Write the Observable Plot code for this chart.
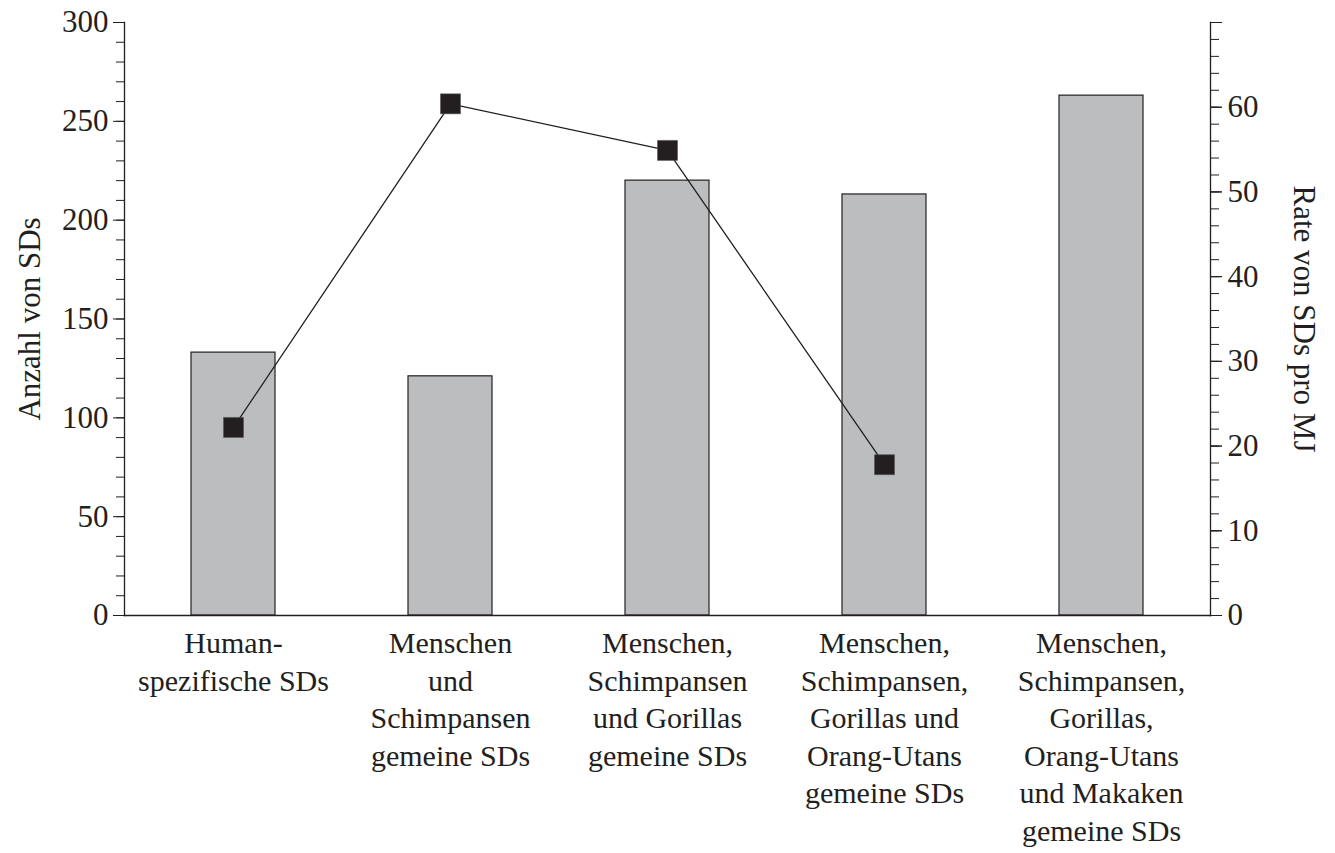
<!DOCTYPE html>
<html>
<head>
<meta charset="utf-8">
<script src="https://cdn.jsdelivr.net/npm/d3@7"></script>
<script src="https://cdn.jsdelivr.net/npm/@observablehq/plot@0.6"></script>
<style>
  html, body { margin: 0; padding: 0; background: #fff; }
</style>
</head>
<body>
<div id="chart"></div>
<script>
const categories = [
  "Human-\nspezifische SDs",
  "Menschen\nund\nSchimpansen\ngemeine SDs",
  "Menschen,\nSchimpansen\nund Gorillas\ngemeine SDs",
  "Menschen,\nSchimpansen,\nGorillas und\nOrang-Utans\ngemeine SDs",
  "Menschen,\nSchimpansen,\nGorillas,\nOrang-Utans\nund Makaken\ngemeine SDs"
];
const counts = [133, 121, 220, 213, 263];
const rateCategories = categories.slice(0, 4);
const rates = [22.2, 60.4, 54.9, 17.8];

const leftMax = 300;
const rightMax = 70;
const leftMajor = [0, 50, 100, 150, 200, 250, 300];
const leftMinor = d3.range(0, 301, 10);
const rightMajor = [0, 10, 20, 30, 40, 50, 60, 70];
const rightLabeled = [0, 10, 20, 30, 40, 50, 60];
const rightMinor = d3.range(0, 71, 2);
const leftLabel = "Anzahl von SDs";
const rightLabel = "Rate von SDs pro MJ";

const ink = "#231f20";
const barFill = "#bcbdbf";
const fs = 31;
const fsX = 30;

const y2 = d3.scaleLinear([0, rightMax], [0, leftMax]);

const barData = categories.map((c, i) => ({cat: c, count: counts[i]}));
const rateData = rateCategories.map((c, i) => ({cat: c, rate: rates[i]}));

const chart = Plot.plot({
  width: 1335,
  height: 853,
  marginLeft: 124,
  marginRight: 125,
  marginTop: 22,
  marginBottom: 238,
  style: {fontFamily: "'Liberation Serif', 'Times New Roman', serif", fontSize: fs + "px", color: ink, background: "#fff"},
  x: {domain: categories, paddingInner: 0.6133, paddingOuter: 0.30665, label: null},
  y: {domain: [0, leftMax], label: null},
  marks: [
    Plot.barY(barData, {x: "cat", y: "count", fill: barFill, stroke: ink, strokeWidth: 1.2}),
    Plot.line(rateData, {x: "cat", y: d => y2(d.rate), stroke: ink, strokeWidth: 1.3}),
    Plot.dot(rateData, {x: "cat", y: d => y2(d.rate), symbol: "square", r: 11.28, fill: ink, stroke: "#555", strokeWidth: 0.6}),
    Plot.frame({anchor: "left", stroke: ink, strokeWidth: 1.3}),
    Plot.frame({anchor: "right", stroke: ink, strokeWidth: 1.3}),
    Plot.frame({anchor: "bottom", stroke: ink, strokeWidth: 1.3}),
    Plot.axisX({tickSize: 0, tickPadding: 11, fontSize: fsX, lineHeight: 1.25, label: null}),
    Plot.axisY(leftMinor, {anchor: "left", tickSize: 8, tickFormat: () => "", label: null, stroke: ink}),
    Plot.axisY(leftMajor, {anchor: "left", tickSize: 11, tickPadding: 5, fontSize: fs, label: null, stroke: ink}),
    Plot.axisY(rightMinor, {anchor: "right", y: y2, tickSize: 8, tickFormat: () => "", label: null, stroke: ink}),
    Plot.axisY(rightMajor, {anchor: "right", y: y2, tickSize: 11, tickFormat: () => "", label: null, stroke: ink}),
    Plot.axisY(rightLabeled, {anchor: "right", y: y2, tickSize: 11, tickPadding: 6, tickFormat: d => String(d), fontSize: fs, label: null, stroke: ink}),
    Plot.text([leftLabel], {frameAnchor: "left", dx: -94, dy: 0, rotate: -90, fontSize: fs, fill: ink, textAnchor: "middle", lineAnchor: "middle"}),
    Plot.text([rightLabel], {frameAnchor: "right", dx: 93, dy: 0, rotate: 90, fontSize: fs, fill: ink, textAnchor: "middle", lineAnchor: "middle"})
  ]
});
document.getElementById("chart").appendChild(chart);
</script>
</body>
</html>
